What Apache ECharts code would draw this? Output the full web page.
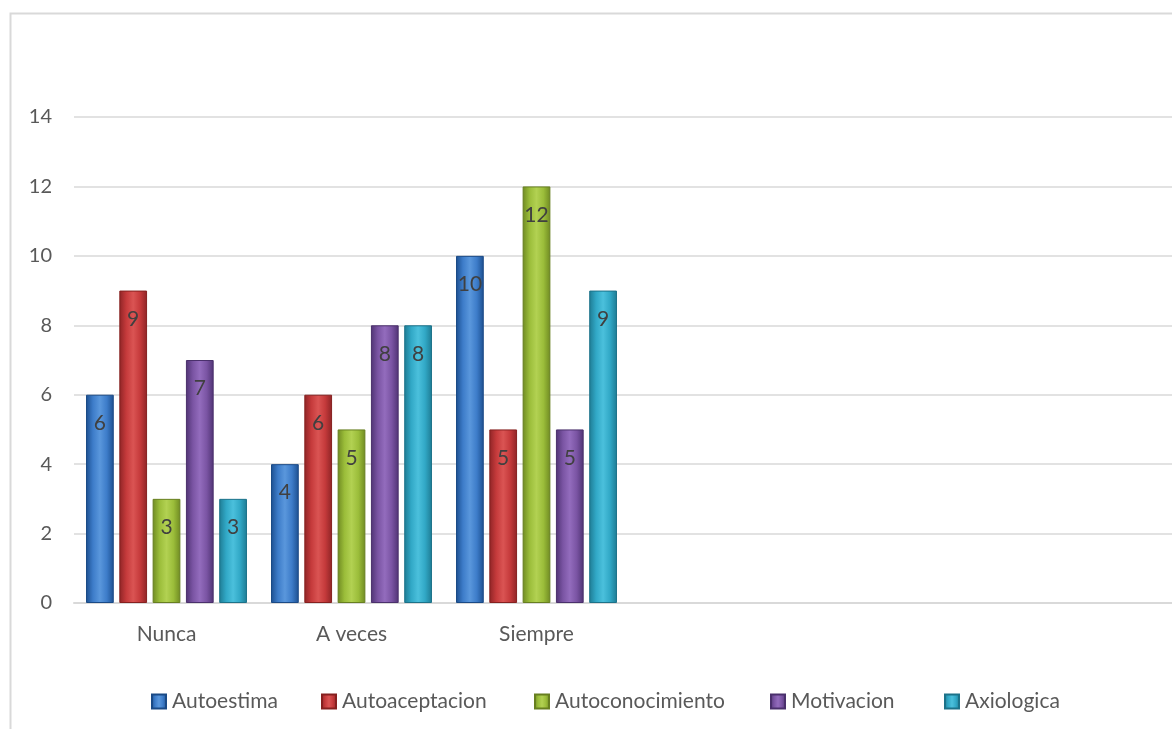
<!DOCTYPE html>
<html>
<head>
<meta charset="utf-8">
<script src="https://cdn.jsdelivr.net/npm/echarts@6/dist/echarts.min.js"></script>
<style>html,body{margin:0;padding:0;background:#fff;overflow:hidden;}#c{width:1184px;height:729px;}</style>
</head>
<body>
<div id="c"></div>
<script>
const categories = ['Nunca', 'A veces', 'Siempre', '', '', ''];
const seriesNames = ['Autoestima', 'Autoaceptacion', 'Autoconocimiento', 'Motivacion', 'Axiologica'];
const autoestima = [6, 4, 10];
const autoaceptacion = [9, 6, 5];
const autoconocimiento = [3, 5, 12];
const motivacion = [7, 8, 5];
const axiologica = [3, 8, 9];
const yTicks = [0, 2, 4, 6, 8, 10, 12, 14];

const values = [autoestima, autoaceptacion, autoconocimiento, motivacion, axiologica];
const palettes = [
  { edge: '#1c4f8f', mid: '#3d7cc9', light: '#5a97dc', border: '#1a4a86' },
  { edge: '#8e2426', mid: '#c53a3b', light: '#da5453', border: '#86201f' },
  { edge: '#6f8a22', mid: '#9bbd3a', light: '#b2d152', border: '#677f20' },
  { edge: '#4f3373', mid: '#7a54a3', light: '#936cbd', border: '#4a306c' },
  { edge: '#1e7b93', mid: '#31a8c6', light: '#4bc0dc', border: '#1c7289' }
];
const legendLefts = [146, 316, 529, 765, 939];
const font = 'Lato, "Open Sans", sans-serif';

function grad(p) {
  return new echarts.graphic.LinearGradient(0, 0, 1, 0, [
    { offset: 0, color: p.edge },
    { offset: 0.25, color: p.mid },
    { offset: 0.5, color: p.light },
    { offset: 0.75, color: p.mid },
    { offset: 1, color: p.edge }
  ]);
}

const chart = echarts.init(document.getElementById('c'));
chart.setOption({
  animation: false,
  backgroundColor: '#fff',
  graphic: [{
    type: 'rect', left: 8, top: 11, silent: true, z: -1,
    shape: { width: 1300, height: 900 },
    style: { fill: 'none', stroke: '#d9d9d9', lineWidth: 2 }
  }],
  grid: { left: 74, top: 117, right: 0, height: 486 },
  legend: seriesNames.map((n, i) => ({
    data: [{ name: n, itemStyle: { color: grad(palettes[i]) } }],
    left: legendLefts[i], top: 686,
    itemWidth: 14, itemHeight: 14,
    icon: 'rect',
    textStyle: { fontFamily: font, fontSize: 21, color: '#595959', padding: [0, 0, 0, 1] }
  })),
  xAxis: {
    type: 'category', data: categories,
    axisLine: { lineStyle: { color: '#d9d9d9', width: 2 } },
    axisTick: { show: false },
    axisLabel: { fontFamily: font, fontSize: 21, color: '#595959', margin: 21 }
  },
  yAxis: {
    type: 'value', min: yTicks[0], max: yTicks[yTicks.length - 1], interval: 2,
    axisLine: { show: false }, axisTick: { show: false },
    splitLine: { lineStyle: { color: '#d9d9d9', width: 1.5 } },
    axisLabel: { fontFamily: font, fontSize: 20, color: '#595959', margin: 22 }
  },
  series: seriesNames.map((n, i) => ({
    name: n, type: 'bar',
    data: values[i],
    barGap: '20%', barCategoryGap: '13%',
    itemStyle: { color: grad(palettes[i]), borderColor: palettes[i].border, borderWidth: 1 },
    label: {
      show: true, position: 'insideTop', distance: 18,
      fontFamily: font, fontSize: 21, color: '#404040'
    }
  }))
});
</script>
</body>
</html>
